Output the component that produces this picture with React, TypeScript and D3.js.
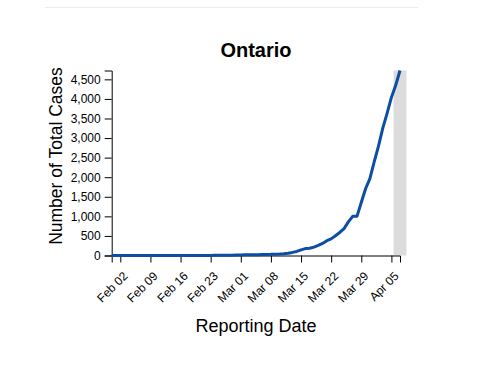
import React, { useEffect, useRef } from 'react';
import * as d3 from 'd3';

// Ontario cumulative cases by reporting date (one value per day, Jan 31 -> Apr 07)
const startDay = '2020-01-31';
const totalCases = [
  3, // Jan 31
  3, 3, 3, 3, 3, 3, 3, 3, 3, 3, 3, 3, 3, 3, 3, 3, 3, 3, 3, 3, 3, 3, 3, // Feb 01 - Feb 23
  4, 4, 5, 6, 8, 11, // Feb 24 - Feb 29
  15, 18, 20, 20, 22, 28, 28, 29, 34, 36, 42, 59, 79, 103, 145, 177, // Mar 01 - Mar 16
  185, 214, 257, 308, 377, 425, 503, 588, 688, 858, 1000, 1000, // Mar 17 - Mar 28
  1355, 1706, 1966, // Mar 29 - Mar 31
  2392, 2793, 3255, 3630, 4038, 4347, 4726, // Apr 01 - Apr 07
];
// shaded band at the end (incomplete reporting period)
const shadeRange = ['2020-04-05T12:00:00', '2020-04-08T12:00:00'];

const title = 'Ontario';
const yLabel = 'Number of Total Cases';
const xLabel = 'Reporting Date';

const parse = d3.timeParse('%Y-%m-%d');
const parseT = d3.timeParse('%Y-%m-%dT%H:%M:%S');

const App = () => {
  const ref = useRef<SVGSVGElement>(null);

  useEffect(() => {
    const svg = d3.select(ref.current);
    svg.selectAll('*').remove();

    const first = parse(startDay) as Date;
    const data = totalCases.map((v, i) => ({ date: d3.timeDay.offset(first, i), value: v }));

    const left = 111.7;
    const right = 400;
    const top = 70.5;
    const bottom = 255.5;

    const x = d3
      .scaleTime()
      .domain(d3.extent(data, (d) => d.date) as [Date, Date])
      .range([left, right]);
    const y = d3
      .scaleLinear()
      .domain([0, d3.max(data, (d) => d.value) as number])
      .range([bottom, top]);

    const font = "Arial, 'Liberation Sans', sans-serif";

    // thin divider at the top of the card
    svg
      .append('line')
      .attr('x1', 45)
      .attr('x2', 418)
      .attr('y1', 7.5)
      .attr('y2', 7.5)
      .attr('stroke', '#ececec');

    // shaded band
    const s0 = parseT(shadeRange[0]) as Date;
    const s1 = parseT(shadeRange[1]) as Date;
    svg
      .append('rect')
      .attr('x', x(s0))
      .attr('y', top)
      .attr('width', x(s1) - x(s0))
      .attr('height', bottom - top)
      .attr('fill', '#dcdcdc');

    // axes
    const xAxis = svg
      .append('g')
      .attr('transform', `translate(0,${bottom})`)
      .call(
        d3
          .axisBottom(x)
          .ticks(d3.timeWeek.every(1))
          .tickSize(7)
          .tickFormat(d3.timeFormat('%b %d') as any)
      );
    xAxis
      .selectAll('text')
      .attr('font-family', font)
      .attr('font-size', 12)
      .attr('fill', '#000')
      .style('text-anchor', 'end')
      .attr('x', -9.7)
      .attr('y', 20.4)
      .attr('dy', 0)
      .attr('transform', 'rotate(-45)');

    const yAxis = svg
      .append('g')
      .attr('transform', `translate(${left},0)`)
      .call(d3.axisLeft(y).ticks(10).tickSize(7).tickPadding(4).tickFormat(d3.format(',')));
    yAxis.selectAll('text').attr('font-family', font).attr('font-size', 12).attr('fill', '#000');

    // line
    const line = d3
      .line<{ date: Date; value: number }>()
      .x((d) => x(d.date))
      .y((d) => y(d.value));
    svg
      .append('path')
      .datum(data)
      .attr('d', line)
      .attr('fill', 'none')
      .attr('stroke', '#0b4ea2')
      .attr('stroke-width', 3)
      .attr('stroke-linejoin', 'round');

    // title and labels
    svg
      .append('text')
      .attr('x', 256)
      .attr('y', 57)
      .attr('text-anchor', 'middle')
      .attr('font-family', font)
      .attr('font-size', 20)
      .attr('font-weight', 'bold')
      .text(title);

    svg
      .append('text')
      .attr('x', 256)
      .attr('y', 332)
      .attr('text-anchor', 'middle')
      .attr('font-family', font)
      .attr('font-size', 18)
      .text(xLabel);

    svg
      .append('text')
      .attr('transform', `translate(62,${(top + bottom) / 2 - 7}) rotate(-90)`)
      .attr('text-anchor', 'middle')
      .attr('font-family', font)
      .attr('font-size', 17.5)
      .text(yLabel);
  }, []);

  return (
    <div style={{ position: 'absolute', left: 0, top: 0 }}>
      <svg ref={ref} width={501} height={366} style={{ display: 'block', background: '#fff' }} />
    </div>
  );
};

export default App;
